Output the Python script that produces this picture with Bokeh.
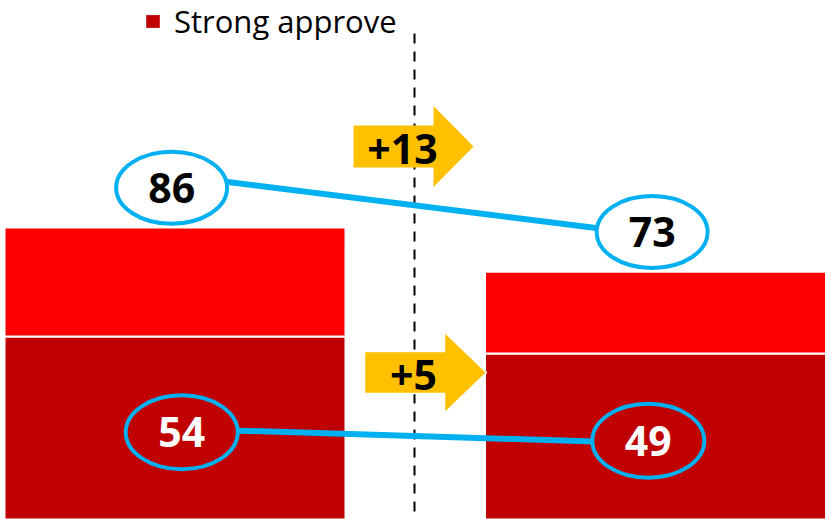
from bokeh.plotting import figure
from bokeh.models import Range1d, Legend, LegendItem
from bokeh.core.properties import value
from bokeh.embed import file_html
from bokeh.resources import INLINE

# ---- data ----
periods = ["Period 1", "Period 2"]
x_pos = [0, 1]
strong_approve = [54, 49]
total_approve = [86, 73]
legend_label = "Strong approve"

total_change = total_approve[0] - total_approve[1]      # 13
strong_change = strong_approve[0] - strong_approve[1]   # 5

# ---- colours / layout ----
DARK = "#C00000"
RED = "#FF0000"
BLUE = "#00B0F0"
GOLD = "#FFC000"
FONT = "Open Sans"

W, H = 827, 519
OFF = 0               # page offset of the canvas
PX_X = 480.5          # pixels per x unit
PX_Y = 3.4            # pixels per value unit
X0 = (OFF - 174.5) / PX_X
X1 = X0 + W / PX_X
Y1 = (519.5 - OFF) / PX_Y
Y0 = Y1 - H / PX_Y


def sx(px):
    return X0 + (px - OFF) / PX_X


def sy(py):
    return Y1 - (py - OFF) / PX_Y


p = figure(width=W, height=H, x_range=Range1d(X0, X1), y_range=Range1d(Y0, Y1),
           x_axis_type=None, y_axis_type=None, output_backend="svg",
           toolbar_location=None, min_border=0)
p.grid.visible = False
p.outline_line_color = None
p.background_fill_color = "white"
p.border_fill_color = "white"

BAR_W = 341 / PX_X
p.vbar(x=x_pos, width=BAR_W, bottom=0, top=strong_approve,
       fill_color=DARK, line_color="white", line_width=2)
p.vbar(x=x_pos, width=BAR_W, bottom=strong_approve, top=total_approve,
       fill_color=RED, line_color="white", line_width=2)

# legend swatch renderer (no visible data)
r_key = p.rect(x=[float("nan")], y=[float("nan")], width=1, height=1,
               fill_color=DARK, line_color=None)

# dashed divider
mid = sx(414)
p.segment(x0=[mid], y0=[sy(33)], x1=[mid], y1=[Y0 - 5],
          line_color="black", line_width=2, line_dash="10 8")

# connector lines
tot_lbl_y = [t + 11.7 for t in total_approve]
str_lbl_y = [s / 2 - 1.2 for s in strong_approve]
tot_lbl_x = [x - 0.007 for x in x_pos]
str_lbl_x = [x_pos[0] + 0.014, x_pos[1] - 0.015]

p.line(x=tot_lbl_x, y=[tot_lbl_y[0] + 3.8, tot_lbl_y[1] - 0.9],
       line_color=BLUE, line_width=6)
p.line(x=str_lbl_x, y=[str_lbl_y[0] + 1.0, str_lbl_y[1] - 0.7],
       line_color=BLUE, line_width=6)

# ellipses
p.ellipse(x=tot_lbl_x, y=tot_lbl_y, width=111, height=72,
          width_units="screen", height_units="screen",
          fill_color="white", line_color=BLUE, line_width=4)
p.ellipse(x=str_lbl_x, y=str_lbl_y, width=112, height=74,
          width_units="screen", height_units="screen",
          fill_color=DARK, line_color=BLUE, line_width=4)

p.text(x=tot_lbl_x, y=tot_lbl_y, text=[str(v) for v in total_approve],
       text_font=value(FONT), text_font_style="bold", text_font_size="41px",
       text_color="black", text_align="center", text_baseline="middle")
p.text(x=str_lbl_x, y=str_lbl_y, text=[str(v) for v in strong_approve],
       text_font=value(FONT), text_font_style="bold", text_font_size="41px",
       text_color="white", text_align="center", text_baseline="middle")


# change arrows
def arrow(left, right_body, tip, cy, body_h, head_h):
    xs = [sx(left), sx(right_body), sx(right_body), sx(tip),
          sx(right_body), sx(right_body), sx(left)]
    ys = [sy(cy - body_h / 2), sy(cy - body_h / 2), sy(cy - head_h / 2), sy(cy),
          sy(cy + head_h / 2), sy(cy + body_h / 2), sy(cy + body_h / 2)]
    return xs, ys


a1 = arrow(353, 433, 473, 146, 42, 81)
a2 = arrow(364, 444, 486, 372, 42, 81)
p.patches(xs=[a1[0], a2[0]], ys=[a1[1], a2[1]], fill_color=GOLD,
          line_color=[None, "white"], line_width=1.5)
p.text(x=[sx(402), sx(413)], y=[sy(148), sy(374)],
       text=[f"+{total_change}", f"+{strong_change}"],
       text_font=value(FONT), text_font_style="bold", text_font_size="41px",
       text_color="black", text_align="center", text_baseline="middle")

# legend
legend = Legend(items=[LegendItem(label=legend_label, renderers=[r_key])],
                location=(144 - OFF, H - 42 + OFF), orientation="horizontal",
                glyph_width=17, glyph_height=16, label_standoff=13,
                label_text_font=FONT, label_text_font_size="31px",
                label_text_color="black", padding=0, margin=0, spacing=0,
                border_line_color=None, background_fill_alpha=0)
p.add_layout(legend, "center")

open("out.html", "w").write(file_html(p, INLINE))
